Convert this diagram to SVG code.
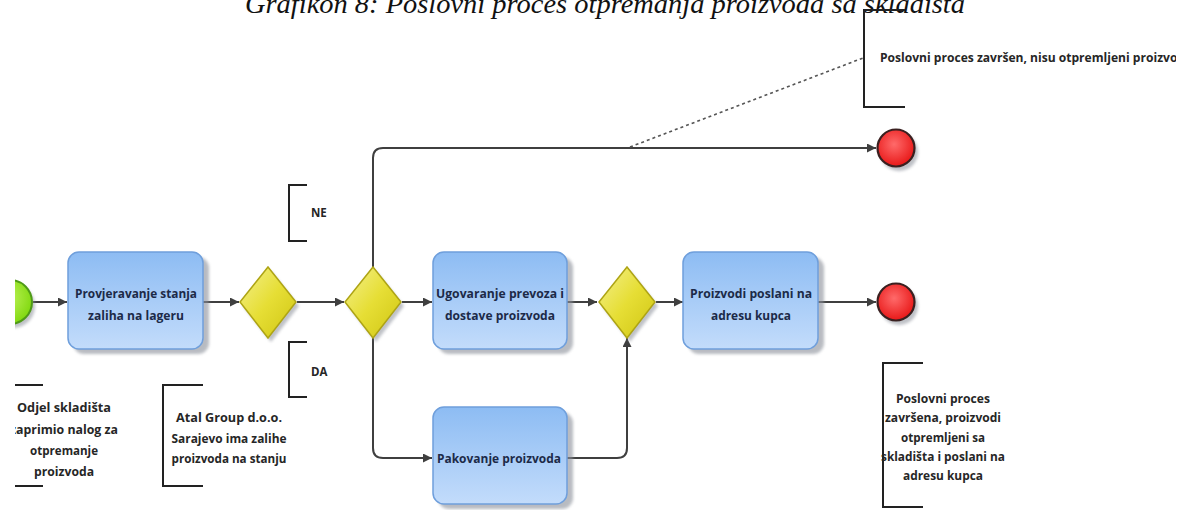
<svg xmlns="http://www.w3.org/2000/svg" width="1189" height="510" viewBox="0 0 1189 510">
  <style>
    .title { font-family: "Liberation Serif", "Times New Roman", serif; font-style: italic; font-size: 27px; fill: #111; }
    .task { fill: url(#taskFill); stroke: #6f9fdc; stroke-width: 1.5; }
    .task-shadow { fill: #8a8f99; opacity: 0.6; filter: url(#soft); }
    .task-text { font-family: "Open Sans", "Noto Sans", sans-serif; font-weight: 700; font-size: 12.5px; fill: #1c2a48; text-anchor: middle; }
    .gw { fill: url(#gwFill); stroke: #aea414; stroke-width: 1.5; }
    .shadow { fill: #8a8f99; opacity: 0.55; filter: url(#soft); }
    .end { fill: url(#endFill); stroke: #3a2020; stroke-width: 2.2; }
    .start { fill: url(#startFill); stroke: #4f9a18; stroke-width: 2; }
    .conn { fill: none; stroke: #3f3f3f; stroke-width: 2; }
    .assoc { fill: none; stroke: #555; stroke-width: 1.6; stroke-dasharray: 3 3; }
    .bracket { fill: none; stroke: #222; stroke-width: 2; }
    .note { font-family: "Open Sans", "Noto Sans", sans-serif; font-weight: 700; font-size: 12.5px; fill: #262626; text-anchor: middle; }
    .note-l { font-family: "Open Sans", "Noto Sans", sans-serif; font-weight: 700; font-size: 11.5px; fill: #262626; }
  </style>
  <defs>
    <linearGradient id="taskFill" x1="0" y1="0" x2="0" y2="1">
      <stop offset="0" stop-color="#8dbcf3"/>
      <stop offset="1" stop-color="#c3dcfb"/>
    </linearGradient>
    <linearGradient id="gwFill" x1="0" y1="0" x2="1" y2="1">
      <stop offset="0" stop-color="#f4f08e"/>
      <stop offset="0.5" stop-color="#e6de35"/>
      <stop offset="1" stop-color="#cfc512"/>
    </linearGradient>
    <radialGradient id="endFill" cx="0.45" cy="0.4" r="0.6">
      <stop offset="0" stop-color="#ff6a6a"/>
      <stop offset="1" stop-color="#e81818"/>
    </radialGradient>
    <radialGradient id="startFill" cx="0.4" cy="0.4" r="0.65">
      <stop offset="0" stop-color="#c4f560"/>
      <stop offset="1" stop-color="#7fd80e"/>
    </radialGradient>
    <filter id="soft" x="-20%" y="-20%" width="140%" height="140%">
      <feGaussianBlur stdDeviation="1.5"/>
    </filter>
    <marker id="arrow" markerUnits="userSpaceOnUse" markerWidth="9" markerHeight="9" refX="9" refY="4.5" orient="auto">
      <path d="M0,0 L9,4.5 L0,9 z" fill="#3f3f3f"/>
    </marker>
    <clipPath id="leftEdge">
      <rect x="15" y="0" width="1174" height="510"/>
    </clipPath>
    <clipPath id="rightEdge">
      <rect x="0" y="0" width="1176" height="510"/>
    </clipPath>
  </defs>

  <rect width="1189" height="510" fill="#ffffff"/>

  <!-- caption, running off the top edge -->
  <text class="title" x="605" y="13" text-anchor="middle" textLength="720" lengthAdjust="spacingAndGlyphs">Grafikon 8: Poslovni proces otpremanja proizvoda sa skladišta</text>

  <!-- sequence flows -->
  <g id="connectors">
    <path class="conn" d="M33,302 H67" marker-end="url(#arrow)"/>
    <path class="conn" d="M203,302 H239" marker-end="url(#arrow)"/>
    <path class="conn" d="M297,302 H344" marker-end="url(#arrow)"/>
    <path class="conn" d="M373,267 V158 Q373,148 383,148 H876" marker-end="url(#arrow)"/>
    <path class="conn" d="M402,302 H432" marker-end="url(#arrow)"/>
    <path class="conn" d="M373,338 V448 Q373,458 383,458 H432" marker-end="url(#arrow)"/>
    <path class="conn" d="M567,302 H597" marker-end="url(#arrow)"/>
    <path class="conn" d="M567,458 H617 Q627,458 627,448 V338" marker-end="url(#arrow)"/>
    <path class="conn" d="M656,302 H683" marker-end="url(#arrow)"/>
    <path class="conn" d="M818,302 H876" marker-end="url(#arrow)"/>
    <path class="assoc" d="M630,147 L863,58"/>
  </g>

  <!-- start event -->
  <g id="start" clip-path="url(#leftEdge)">
    <circle class="shadow" cx="13" cy="306" r="22"/>
    <circle class="start" cx="10" cy="302" r="22"/>
  </g>

  <!-- tasks -->
  <g id="task-provjera">
    <rect class="task-shadow" x="73" y="257" width="136" height="97" rx="11"/>
    <rect class="task" x="68" y="252" width="135" height="97" rx="11"/>
    <text class="task-text" x="136" y="298" textLength="122" lengthAdjust="spacingAndGlyphs">Provjeravanje stanja</text>
    <text class="task-text" x="136" y="320" textLength="96" lengthAdjust="spacingAndGlyphs">zaliha na lageru</text>
  </g>

  <g id="task-ugovaranje">
    <rect class="task-shadow" x="438" y="257" width="135" height="97" rx="11"/>
    <rect class="task" x="433" y="252" width="134" height="97" rx="11"/>
    <text class="task-text" x="500" y="298" textLength="128" lengthAdjust="spacingAndGlyphs">Ugovaranje prevoza i</text>
    <text class="task-text" x="500" y="320" textLength="110" lengthAdjust="spacingAndGlyphs">dostave proizvoda</text>
  </g>

  <g id="task-pakovanje">
    <rect class="task-shadow" x="438" y="412" width="135" height="97" rx="11"/>
    <rect class="task" x="433" y="407" width="134" height="97" rx="11"/>
    <text class="task-text" x="499" y="463" textLength="124" lengthAdjust="spacingAndGlyphs">Pakovanje proizvoda</text>
  </g>

  <g id="task-poslani">
    <rect class="task-shadow" x="688" y="257" width="136" height="97" rx="11"/>
    <rect class="task" x="683" y="252" width="135" height="97" rx="11"/>
    <text class="task-text" x="751" y="298" textLength="122" lengthAdjust="spacingAndGlyphs">Proizvodi poslani na</text>
    <text class="task-text" x="751" y="320" textLength="80" lengthAdjust="spacingAndGlyphs">adresu kupca</text>
  </g>

  <!-- gateways -->
  <g id="gateway-1">
    <path class="shadow" d="M271,271 L299,306 L271,342 L243,306 z"/>
    <path class="gw" d="M268,267 L296,302 L268,338 L240,302 z"/>
  </g>
  <g id="gateway-2">
    <path class="shadow" d="M376,271 L404,306 L376,342 L348,306 z"/>
    <path class="gw" d="M373,267 L401,302 L373,338 L345,302 z"/>
  </g>
  <g id="gateway-3">
    <path class="shadow" d="M630,271 L658,306 L630,342 L602,306 z"/>
    <path class="gw" d="M627,267 L655,302 L627,338 L599,302 z"/>
  </g>

  <!-- end events -->
  <g id="end-ne">
    <circle class="shadow" cx="899" cy="152" r="19"/>
    <circle class="end" cx="896" cy="148" r="18.5"/>
  </g>
  <g id="end-da">
    <circle class="shadow" cx="899" cy="306" r="19"/>
    <circle class="end" cx="896" cy="302" r="18.5"/>
  </g>

  <!-- annotations -->
  <g id="note-ne">
    <path class="bracket" d="M307,185 H289 V241 H307"/>
    <text class="note-l" x="311" y="217">NE</text>
  </g>
  <g id="note-da">
    <path class="bracket" d="M307,342 H289 V397 H307"/>
    <text class="note-l" x="311" y="376">DA</text>
  </g>
  <g id="note-start" clip-path="url(#leftEdge)">
    <path class="bracket" d="M15,385 H43"/>
    <path class="bracket" d="M9,433 V486 H43"/>
    <text class="note" x="64" y="412" textLength="94" lengthAdjust="spacingAndGlyphs">Odjel skladišta</text>
    <text class="note" x="64" y="434" textLength="108" lengthAdjust="spacingAndGlyphs">zaprimio nalog za</text>
    <text class="note" x="64" y="455" textLength="68" lengthAdjust="spacingAndGlyphs">otpremanje</text>
    <text class="note" x="64" y="476" textLength="60" lengthAdjust="spacingAndGlyphs">proizvoda</text>
  </g>
  <g id="note-zalihe">
    <path class="bracket" d="M203,385 H163 V486 H203"/>
    <text class="note" x="229" y="422" textLength="106" lengthAdjust="spacingAndGlyphs">Atal Group d.o.o.</text>
    <text class="note" x="229" y="443" textLength="115" lengthAdjust="spacingAndGlyphs">Sarajevo ima zalihe</text>
    <text class="note" x="229" y="463" textLength="115" lengthAdjust="spacingAndGlyphs">proizvoda na stanju</text>
  </g>
  <g id="note-nisu-otpremljeni" clip-path="url(#rightEdge)">
    <path class="bracket" d="M905,10 H864 V107 H905"/>
    <text class="note-l" x="880" y="62" textLength="305" lengthAdjust="spacingAndGlyphs">Poslovni proces završen, nisu otpremljeni proizvod</text>
  </g>
  <g id="note-zavrsena">
    <path class="bracket" d="M923,363 H883 V507 H923"/>
    <text class="note" x="943" y="403" textLength="94" lengthAdjust="spacingAndGlyphs">Poslovni proces</text>
    <text class="note" x="943" y="422" textLength="116" lengthAdjust="spacingAndGlyphs">završena, proizvodi</text>
    <text class="note" x="943" y="442" textLength="84" lengthAdjust="spacingAndGlyphs">otpremljeni sa</text>
    <text class="note" x="943" y="461" textLength="124" lengthAdjust="spacingAndGlyphs">skladišta i poslani na</text>
    <text class="note" x="943" y="480" textLength="80" lengthAdjust="spacingAndGlyphs">adresu kupca</text>
  </g>
</svg>
